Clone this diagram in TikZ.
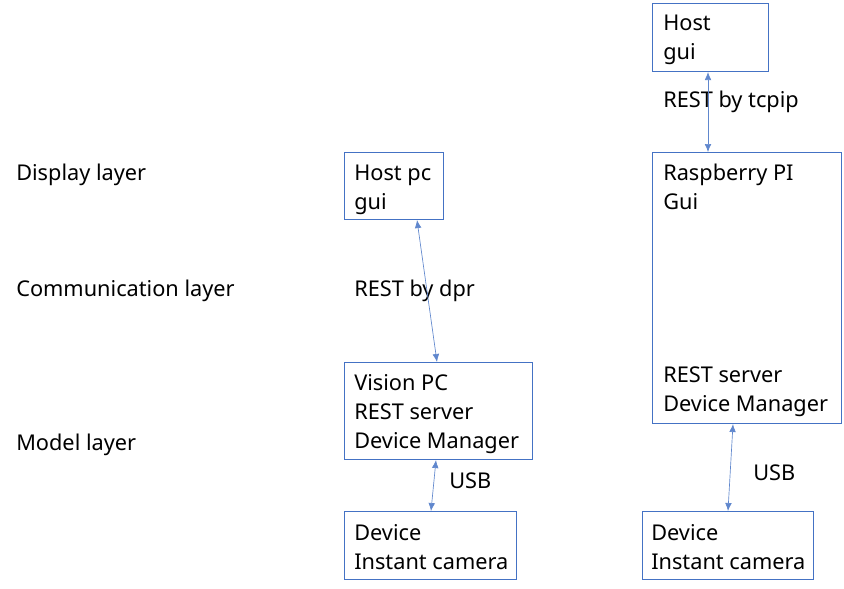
\documentclass[tikz,border=0pt]{standalone}
\usepackage{fontspec}
\setmainfont{Noto Sans}
\usetikzlibrary{arrows.meta,calc}
\definecolor{bordblue}{HTML}{4472C4}
\tikzset{
  box/.style={draw=bordblue, line width=0.8pt, inner sep=0pt, anchor=north west},
  txt/.style={inner sep=0pt, anchor=base west, align=left, text=black},
  link/.style={draw=bordblue!85, line width=0.5pt, {Latex[length=6pt,width=5pt]}-{Latex[length=6pt,width=5pt]}}
}
\begin{document}
\begin{tikzpicture}[x=0.75pt,y=-0.75pt, font=\fontsize{16.3pt}{21.75pt}\selectfont]
\useasboundingbox (0,0) rectangle (844,589);
% boxes
\node[box, minimum width=116*0.75pt, minimum height=68*0.75pt] (host) at (652,3) {};
\node[box, minimum width=189*0.75pt, minimum height=271*0.75pt] (rpi) at (652,152) {};
\node[box, minimum width=99*0.75pt, minimum height=67*0.75pt] (hostpc) at (344,152) {};
\node[box, minimum width=188*0.75pt, minimum height=97*0.75pt] (vpc) at (344,362) {};
\node[box, minimum width=172*0.75pt, minimum height=68*0.75pt] (devl) at (344,511) {};
\node[box, minimum width=171*0.75pt, minimum height=68*0.75pt] (devr) at (642,511) {};
% box texts (base anchor = last line baseline)
\node[txt] (thost) at (663,60) {Host\\gui};
\node[txt] (trpi1) at (663,209) {Raspberry PI\\Gui};
\node[txt] (trpi2) at (663,411) {REST server\\Device Manager};
\node[txt] (thostpc) at (354,209) {Host pc\\gui};
\node[txt] (tvpc) at (354,448) {Vision PC\\REST server\\Device Manager};
\node[txt] (tdevl) at (354,569) {Device\\Instant camera};
\node[txt] (tdevr) at (651,569) {Device\\Instant camera};
% layer labels
\node[txt] (l1) at (16,180) {Display layer};
\node[txt] (l2) at (16,296) {Communication layer};
\node[txt] (l3) at (16,450) {Model layer};
% connector labels
\node[txt] (c1) at (663,107) {REST by tcpip};
\node[txt] (c2) at (354,296) {REST by dpr};
\node[txt] (c3) at (449,488) {USB};
\node[txt] (c4) at (753,480) {USB};
% connectors
\draw[link] ($(host.south west)+(56,0)$) -- ($(rpi.north west)+(56,0)$);
\draw[link] ($(hostpc.south west)+(73,0)$) -- ($(vpc.north west)+(93,0)$);
\draw[link] ($(vpc.south west)+(92,0)$) -- ($(devl.north west)+(87,0)$);
\draw[link] ($(rpi.south west)+(81,0)$) -- ($(devr.north west)+(86,0)$);
\end{tikzpicture}
\end{document}
